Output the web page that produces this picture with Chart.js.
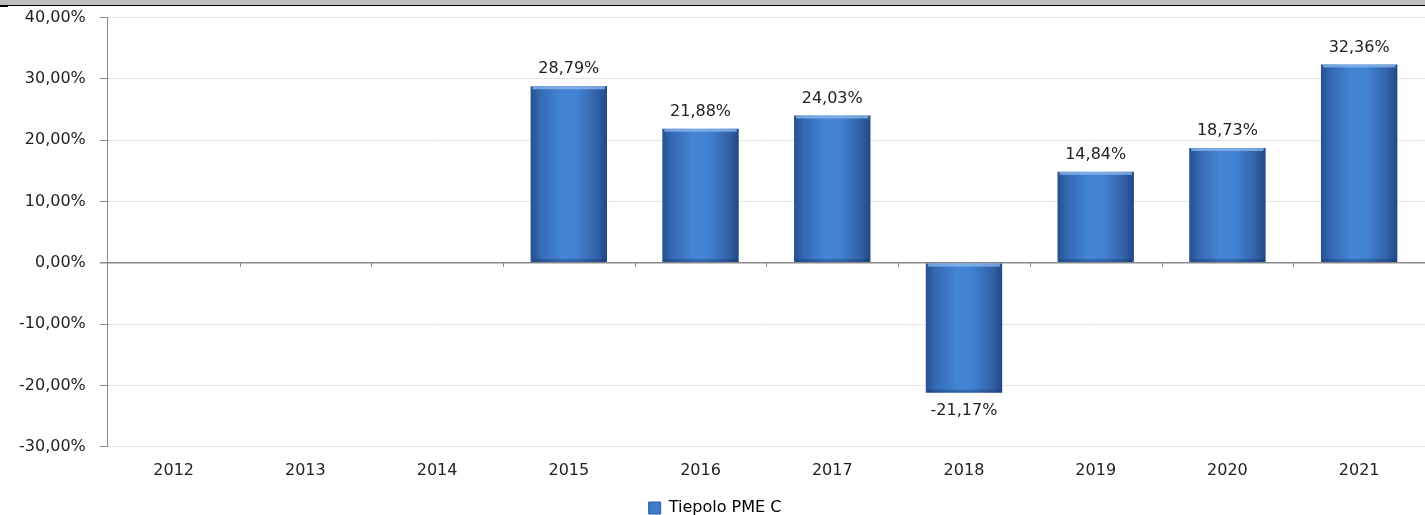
<!DOCTYPE html>
<html>
<head>
<meta charset="utf-8">
<script src="https://cdn.jsdelivr.net/npm/chart.js"></script>
<style>
    html, body { margin: 0; padding: 0; background: #fff; overflow: hidden; }
    #wrap { position: relative; width: 1425px; height: 515px; overflow: hidden; }
    #topbar { position: absolute; left: 0; top: 0; width: 1425px; height: 5px; background: #bdbdbd; border-bottom: 1px solid #000; z-index: 2; }
    #topmark { position: absolute; left: 0; top: 5px; width: 8px; height: 2px; background: #000; z-index: 2; }
    #perfChart { position: absolute; left: 0; top: -6px; }
</style>
</head>
<body>
<div id="wrap">
    <div id="topbar"></div>
    <div id="topmark"></div>
    <canvas id="perfChart" width="1425" height="532"></canvas>
</div>
<script>
const years = ['2012', '2013', '2014', '2015', '2016', '2017', '2018', '2019', '2020', '2021'];
const performance = [null, null, null, 28.79, 21.88, 24.03, -21.17, 14.84, 18.73, 32.36];
const seriesName = 'Tiepolo PME C';

const FONT = '"DejaVu Sans", Verdana, sans-serif';
const BAR_PCT = 0.58;

function fmtPct(v) {
    return v.toFixed(2).replace('.', ',') + '%';
}

// horizontal gradient across each bar, placed from the x scale
function barFill(context) {
    const chart = context.chart;
    const xs = chart.scales.x;
    if (!xs || !isFinite(xs.width) || xs.width <= 0) return '#3a76c4';
    const cx = xs.getPixelForValue(context.dataIndex);
    const w = xs.width / years.length * BAR_PCT;
    if (!isFinite(cx)) return '#3a76c4';
    const g = chart.ctx.createLinearGradient(cx - w / 2, 0, cx + w / 2, 0);
    g.addColorStop(0, '#24508e');
    g.addColorStop(0.12, '#3568b2');
    g.addColorStop(0.4, '#4384d4');
    g.addColorStop(0.6, '#4282d2');
    g.addColorStop(0.88, '#3160a6');
    g.addColorStop(1, '#204884');
    return g;
}

// value labels, bar highlight and zero line ticks
const valueLabels = {
    id: 'valueLabels',
    afterDatasetsDraw(chart) {
        const ctx = chart.ctx;
        const meta = chart.getDatasetMeta(0);
        ctx.save();
        meta.data.forEach(function(bar, i) {
            const v = performance[i];
            if (v === null) return;
            // light top / dark bottom edge
            const half = bar.width / 2;
            const top = Math.min(bar.y, bar.base);
            const bottom = Math.max(bar.y, bar.base);
            ctx.fillStyle = 'rgba(140, 185, 240, 0.75)';
            ctx.fillRect(bar.x - half + 2, top, bar.width - 4, 3);
            ctx.fillStyle = 'rgba(20, 50, 100, 0.35)';
            ctx.fillRect(bar.x - half + 2, bottom - 3, bar.width - 4, 3);
        });
        ctx.font = '16px ' + FONT;
        ctx.fillStyle = '#222';
        ctx.textAlign = 'center';
        meta.data.forEach(function(bar, i) {
            const v = performance[i];
            if (v === null) return;
            if (v >= 0) {
                ctx.textBaseline = 'bottom';
                ctx.fillText(fmtPct(v), bar.x, bar.y - 9);
            } else {
                ctx.textBaseline = 'top';
                ctx.fillText(fmtPct(v), bar.x, bar.y + 10);
            }
        });
        // tick marks on zero line
        const x = chart.scales.x;
        const y0 = chart.scales.y.getPixelForValue(0);
        ctx.strokeStyle = '#888';
        ctx.lineWidth = 1;
        const step = x.width / years.length;
        for (let k = 1; k < years.length; k++) {
            const px = Math.round(x.left + step * k) + 0.5;
            ctx.beginPath();
            ctx.moveTo(px, y0);
            ctx.lineTo(px, y0 + 4);
            ctx.stroke();
        }
        ctx.restore();
    }
};

new Chart(document.getElementById('perfChart').getContext('2d'), {
    type: 'bar',
    data: {
        labels: years,
        datasets: [{
            label: seriesName,
            data: performance,
            backgroundColor: barFill,
            borderWidth: 0,
            categoryPercentage: 1,
            barPercentage: BAR_PCT
        }]
    },
    options: {
        responsive: false,
        animation: false,
        devicePixelRatio: 1,
        layout: {
            padding: { top: 3, left: 5, right: 0, bottom: 0 }
        },
        plugins: {
            legend: {
                position: 'bottom',
                labels: {
                    boxWidth: 12,
                    boxHeight: 12,
                    padding: 6,
                    color: '#222',
                    font: { family: FONT, size: 16 },
                    generateLabels: function() {
                        return [{ text: seriesName, fillStyle: '#3d7bcb', strokeStyle: '#2a5a9c', lineWidth: 1, datasetIndex: 0 }];
                    }
                }
            },
            tooltip: { enabled: false }
        },
        scales: {
            x: {
                grid: { display: false, drawTicks: false },
                border: { display: false },
                ticks: {
                    padding: 14,
                    color: '#222',
                    font: { family: FONT, size: 16 }
                }
            },
            y: {
                min: -30,
                max: 40,
                ticks: {
                    stepSize: 10,
                    padding: 14,
                    color: '#222',
                    font: { family: FONT, size: 16 },
                    callback: function(value) {
                        return fmtPct(value);
                    }
                },
                grid: {
                    color: function(c) {
                        return c.tick && c.tick.value === 0 ? '#8a8a8a' : '#e4e4e4';
                    },
                    tickColor: '#8a8a8a',
                    tickLength: 8,
                    lineWidth: function(c) {
                        return c.tick && c.tick.value === 0 ? 1.5 : 1;
                    }
                },
                border: { display: true, color: '#8a8a8a', width: 1 }
            }
        }
    },
    plugins: [valueLabels]
});
</script>
</body>
</html>
